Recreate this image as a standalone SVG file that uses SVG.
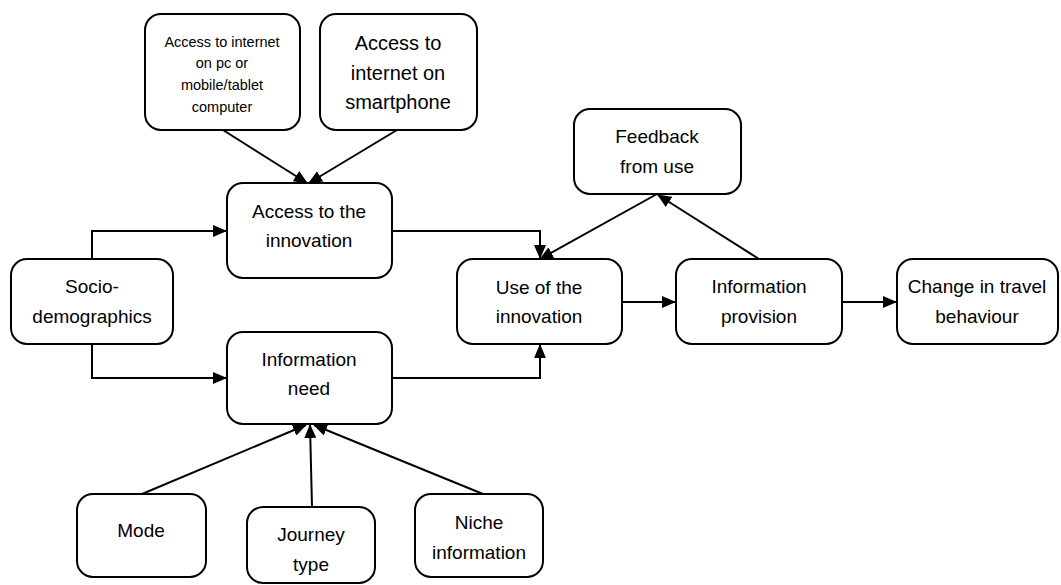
<svg xmlns="http://www.w3.org/2000/svg" width="1061" height="585" viewBox="0 0 1061 585">
  <style>
    .box { fill: #ffffff; stroke: #000000; stroke-width: 2; }
    .lbl { font-family: "Liberation Sans", Arial, sans-serif; font-size: 19px; fill: #000000; text-anchor: middle; }
    .sm { font-size: 14.5px; }
    .big { font-size: 20px; }
    .conn { fill: none; stroke: #000000; stroke-width: 2; }
  </style>
  <defs>
    <marker id="arrow" markerUnits="userSpaceOnUse" markerWidth="14" markerHeight="12" viewBox="0 0 14 12" refX="13" refY="6" orient="auto">
      <path d="M0,0 L14,6 L0,12 Z" fill="#000000"/>
    </marker>
  </defs>
  <rect width="1061" height="585" fill="#ffffff"/>

  <g id="connectors">
    <line class="conn" x1="223" y1="130" x2="307" y2="183" marker-end="url(#arrow)"/>
    <line class="conn" x1="397" y1="130" x2="309" y2="183" marker-end="url(#arrow)"/>
    <path class="conn" d="M92,259 V231 H226" marker-end="url(#arrow)"/>
    <path class="conn" d="M92,344 V378 H226" marker-end="url(#arrow)"/>
    <path class="conn" d="M392,231 H540 V258" marker-end="url(#arrow)"/>
    <path class="conn" d="M392,378 H540 V345" marker-end="url(#arrow)"/>
    <line class="conn" x1="657" y1="194" x2="540" y2="259" marker-end="url(#arrow)"/>
    <line class="conn" x1="759" y1="259" x2="658" y2="195" marker-end="url(#arrow)"/>
    <line class="conn" x1="622" y1="302" x2="675" y2="302" marker-end="url(#arrow)"/>
    <line class="conn" x1="842" y1="302" x2="896" y2="302" marker-end="url(#arrow)"/>
    <line class="conn" x1="142" y1="494" x2="306" y2="425" marker-end="url(#arrow)"/>
    <line class="conn" x1="312" y1="507" x2="310" y2="425" marker-end="url(#arrow)"/>
    <line class="conn" x1="483" y1="494" x2="314" y2="425" marker-end="url(#arrow)"/>
  </g>

  <g id="internet-pc">
    <rect class="box" x="145" y="14" width="155" height="116" rx="16"/>
    <text class="lbl sm" x="222" y="47">Access to internet</text>
    <text class="lbl sm" x="222" y="68">on pc or</text>
    <text class="lbl sm" x="222" y="90">mobile/tablet</text>
    <text class="lbl sm" x="222" y="112">computer</text>
  </g>

  <g id="internet-smartphone">
    <rect class="box" x="320" y="14" width="157" height="116" rx="16"/>
    <text class="lbl big" x="398" y="50">Access to</text>
    <text class="lbl big" x="398" y="80">internet on</text>
    <text class="lbl big" x="398" y="109">smartphone</text>
  </g>

  <g id="access-innovation">
    <rect class="box" x="227" y="183" width="165" height="95" rx="16"/>
    <text class="lbl" x="309" y="218">Access to the</text>
    <text class="lbl" x="309" y="247">innovation</text>
  </g>

  <g id="socio-demographics">
    <rect class="box" x="11" y="259" width="162" height="85" rx="16"/>
    <text class="lbl" x="92" y="293">Socio-</text>
    <text class="lbl" x="92" y="323">demographics</text>
  </g>

  <g id="information-need">
    <rect class="box" x="227" y="332" width="165" height="92" rx="16"/>
    <text class="lbl" x="309" y="366">Information</text>
    <text class="lbl" x="309" y="395">need</text>
  </g>

  <g id="feedback">
    <rect class="box" x="574" y="109" width="167" height="85" rx="16"/>
    <text class="lbl" x="657" y="143">Feedback</text>
    <text class="lbl" x="657" y="173">from use</text>
  </g>

  <g id="use-innovation">
    <rect class="box" x="457" y="259" width="165" height="85" rx="16"/>
    <text class="lbl" x="539" y="294">Use of the</text>
    <text class="lbl" x="539" y="323">innovation</text>
  </g>

  <g id="information-provision">
    <rect class="box" x="676" y="259" width="166" height="85" rx="16"/>
    <text class="lbl" x="759" y="293">Information</text>
    <text class="lbl" x="759" y="323">provision</text>
  </g>

  <g id="travel-behaviour">
    <rect class="box" x="897" y="259" width="161" height="85" rx="16"/>
    <text class="lbl" x="977" y="293">Change in travel</text>
    <text class="lbl" x="977" y="323">behaviour</text>
  </g>

  <g id="mode">
    <rect class="box" x="77" y="494" width="129" height="83" rx="16"/>
    <text class="lbl" x="141" y="537">Mode</text>
  </g>

  <g id="journey-type">
    <rect class="box" x="247" y="507" width="128" height="76" rx="16"/>
    <text class="lbl" x="311" y="541">Journey</text>
    <text class="lbl" x="311" y="571">type</text>
  </g>

  <g id="niche-information">
    <rect class="box" x="415" y="494" width="128" height="83" rx="16"/>
    <text class="lbl" x="479" y="529">Niche</text>
    <text class="lbl" x="479" y="559">information</text>
  </g>
</svg>
